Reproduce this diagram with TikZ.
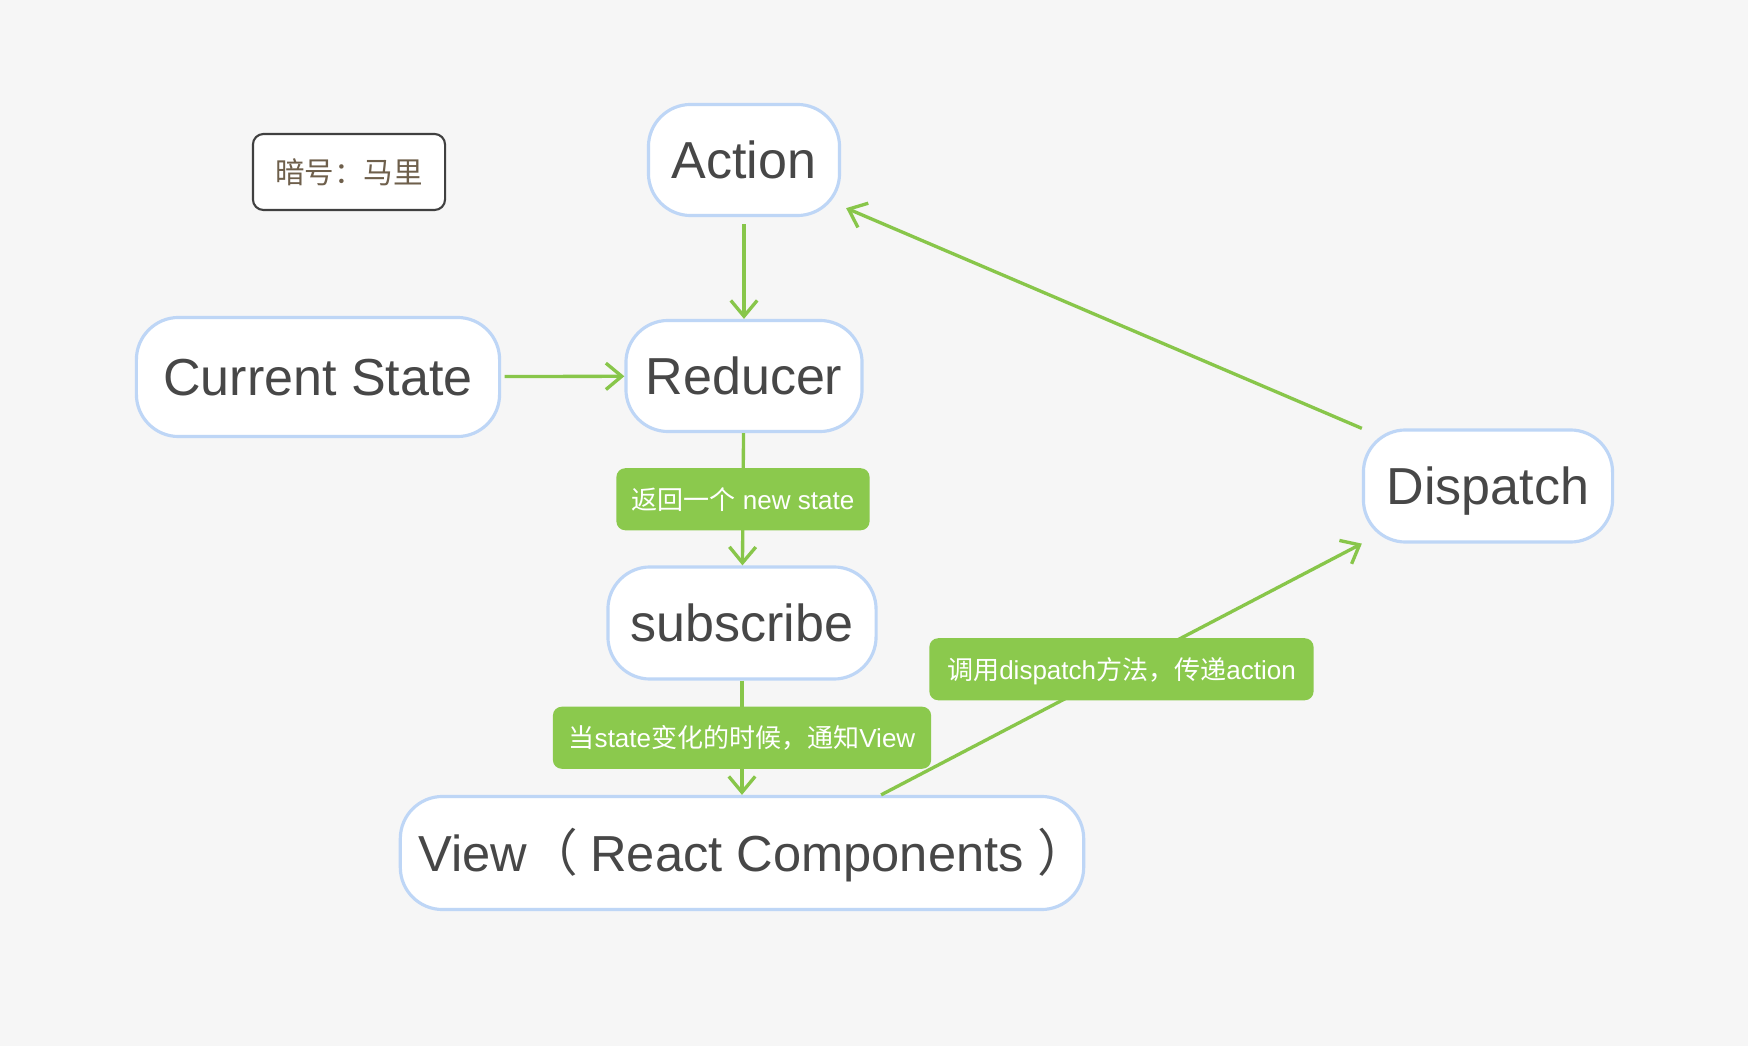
\documentclass[tikz,border=0pt]{standalone}
\usepackage{fontspec}
\setmainfont{Liberation Sans}
\newfontfamily\cjk{Noto Sans CJK SC}
\usetikzlibrary{arrows.meta}

\definecolor{bggray}{HTML}{F6F6F6}
\definecolor{boxblue}{HTML}{BED6F6}
\definecolor{textgray}{HTML}{474747}
\definecolor{taggreen}{HTML}{8BC94D}
\definecolor{linegreen}{HTML}{88C64A}
\definecolor{codebrown}{HTML}{6E5F4B}

\begin{document}
\begin{tikzpicture}[x=0.01cm,y=-0.01cm]

      % Styles: the white blue-rimmed blocks, the green labels and the green arrows
      \tikzstyle{block}=[draw=boxblue, fill=white, line width=0.9pt, rounded corners=12pt, inner sep=0pt, text=textgray, font=\fontsize{14.8}{18}\selectfont, text height=10.6pt, text depth=0pt, minimum height=1.11cm]
      \tikzstyle{tag}=[fill=taggreen, rounded corners=2.5pt, inner sep=0pt, text=white, font=\fontsize{7.4}{9}\selectfont, text height=5.6pt, text depth=0pt, minimum height=0.62cm]
      \tikzstyle{flow}=[draw=linegreen, line width=0.95pt, -{Straight Barb[length=4.5pt,width=7.5pt,line width=0.95pt]}]

      % Background, fixes the margins
      \fill[bggray] (0,0) rectangle (1748,1046);

      % The code word box in the upper left
      \node [draw=black!75, fill=white, line width=0.6pt, rounded corners=3pt, minimum width=1.92cm, minimum height=0.76cm, text=codebrown, font=\cjk\fontsize{8.4}{10}\selectfont] (code) at (349,172) {暗号：马里};

      % The blocks
      \node [block, minimum width=1.91cm] (action)   at (744,160) {Action};
      \node [block, minimum width=2.36cm] (reducer)  at (744,376) {Reducer};
      \node [block, minimum width=3.63cm, minimum height=1.19cm] (current) at (318,377) {Current State};
      \node [block, minimum width=2.49cm, minimum height=1.12cm] (dispatch) at (1488,486) {Dispatch};
      \node [block, minimum width=2.68cm, minimum height=1.12cm] (subscribe) at (742,623) {subscribe};
      \node [block, minimum width=6.83cm, minimum height=1.13cm, font=\fontsize{14.4}{18}\selectfont] (view) at (742,853) {View{\cjk （}\kern0.25em React Components~{\cjk ）}\kern-0.45em};

      % The arrows, labels sit on top of them
      \draw [flow, shorten <=2pt] (action) -- (reducer);
      \draw [flow, shorten <=1pt] (current) -- (reducer);
      \draw [flow] (reducer) -- node [tag, minimum width=2.53cm] (newstate) {{\cjk 返回一个} new state} (subscribe);
      \draw [flow] (subscribe) -- node [tag, minimum width=3.78cm] (notify) {{\cjk 当}state{\cjk 变化的时候，通知}View} (view);
      \draw [flow] ([xshift=1.39cm]view.north) -- node [tag, minimum width=3.84cm] (call) {{\cjk 调用}dispatch{\cjk 方法，传递}action} (dispatch.south west);
      \draw [flow] (dispatch.north west) -- ([xshift=0.05cm,yshift=0.09cm]action.south east);

\end{tikzpicture}
\end{document}
